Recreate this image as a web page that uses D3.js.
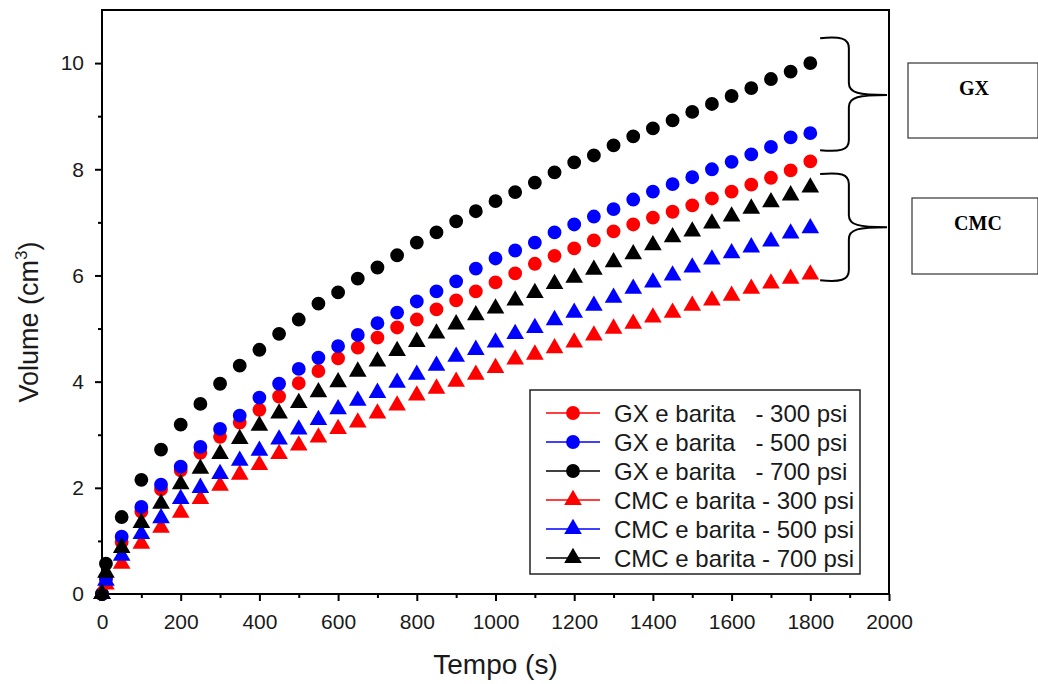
<!DOCTYPE html>
<html>
<head>
<meta charset="utf-8">
<script src="https://cdn.jsdelivr.net/npm/d3@7"></script>
<style>
    body { margin: 0; background: #fff; }
    svg { display: block; font-family: 'Liberation Sans', Arial, sans-serif; }
</style>
</head>
<body>
<svg id="chart" width="1038" height="684"></svg>
<script>
// time in seconds
const tempo = [0, 10].concat(d3.range(50, 1801, 50));

const gx300 = [0, 0.28, 0.98, 1.55, 1.97, 2.33, 2.66, 2.96, 3.23, 3.47, 3.72, 3.97, 4.20, 4.44, 4.64, 4.83, 5.02, 5.17, 5.36, 5.53,
    5.70, 5.87, 6.04, 6.22, 6.37, 6.51, 6.66, 6.83, 6.96, 7.09, 7.20, 7.32, 7.45, 7.58, 7.71, 7.84, 7.98, 8.15];
const gx500 = [0, 0.30, 1.08, 1.64, 2.06, 2.40, 2.77, 3.11, 3.36, 3.70, 3.96, 4.24, 4.45, 4.67, 4.88, 5.10, 5.30, 5.51, 5.70, 5.89,
    6.13, 6.32, 6.47, 6.62, 6.81, 6.96, 7.11, 7.25, 7.43, 7.58, 7.72, 7.85, 8.00, 8.14, 8.28, 8.42, 8.60, 8.68];
const gx700 = [0, 0.57, 1.45, 2.15, 2.72, 3.19, 3.58, 3.96, 4.30, 4.60, 4.90, 5.17, 5.47, 5.68, 5.94, 6.15, 6.38, 6.62, 6.81, 7.02,
    7.21, 7.40, 7.57, 7.75, 7.94, 8.13, 8.26, 8.45, 8.62, 8.77, 8.92, 9.08, 9.23, 9.38, 9.53, 9.70, 9.84, 10.0];
const cmc300 = [0, 0.18, 0.57, 0.95, 1.25, 1.53, 1.79, 2.04, 2.25, 2.43, 2.64, 2.80, 2.95, 3.11, 3.23, 3.40, 3.55, 3.74, 3.87, 4.00,
    4.13, 4.26, 4.42, 4.51, 4.63, 4.74, 4.87, 5.00, 5.09, 5.21, 5.30, 5.43, 5.53, 5.62, 5.75, 5.85, 5.94, 6.02];
const cmc500 = [0, 0.25, 0.72, 1.13, 1.43, 1.79, 2.00, 2.26, 2.51, 2.70, 2.91, 3.10, 3.28, 3.48, 3.64, 3.79, 3.98, 4.13, 4.30, 4.47,
    4.60, 4.74, 4.90, 5.01, 5.16, 5.30, 5.43, 5.58, 5.75, 5.87, 6.00, 6.15, 6.30, 6.42, 6.53, 6.64, 6.79, 6.89];
const cmc700 = [0, 0.40, 0.87, 1.34, 1.70, 2.07, 2.36, 2.64, 2.92, 3.17, 3.40, 3.60, 3.80, 3.99, 4.19, 4.38, 4.58, 4.75, 4.91, 5.08,
    5.25, 5.38, 5.53, 5.67, 5.84, 5.96, 6.11, 6.25, 6.40, 6.57, 6.72, 6.83, 6.98, 7.11, 7.26, 7.38, 7.51, 7.66];

const seriesNames = ['GX e barita   - 300 psi', 'GX e barita   - 500 psi', 'GX e barita   - 700 psi',
    'CMC e barita - 300 psi', 'CMC e barita - 500 psi', 'CMC e barita - 700 psi'];
const seriesValues = [gx300, gx500, gx700, cmc300, cmc500, cmc700];
const colors = ['#ff0000', '#0000ff', '#000000', '#ff0000', '#0000ff', '#000000'];
const shapes = ['circle', 'circle', 'circle', 'triangle', 'triangle', 'triangle'];

const xTicks = d3.range(0, 2001, 200);
const yTicks = d3.range(0, 11, 2);

const svg = d3.select('#chart');
const x = d3.scaleLinear().domain([0, 2000]).range([102, 889]);
const y = d3.scaleLinear().domain([0, 11]).range([594, 10]);

const symbol = shape => d3.symbol()
    .type(shape === 'circle' ? d3.symbolCircle : d3.symbolTriangle)
    .size(shape === 'circle' ? 150 : 135)();

// axes
svg.append('g').attr('transform', `translate(0,${y(0)})`)
    .call(d3.axisBottom(x).tickValues(xTicks).tickFormat(d3.format('d')).tickSize(7).tickPadding(13));
svg.append('g').attr('transform', `translate(0,${y(0)})`)
    .call(d3.axisBottom(x).tickValues(d3.range(100, 2000, 200)).tickSize(4).tickFormat(''));
svg.append('g').attr('transform', `translate(${x(0)},0)`)
    .call(d3.axisLeft(y).tickValues(yTicks).tickSize(7).tickPadding(11));
svg.append('g').attr('transform', `translate(${x(0)},0)`)
    .call(d3.axisLeft(y).tickValues(d3.range(1, 11, 2)).tickSize(4).tickFormat(''));
svg.selectAll('.domain').remove();
svg.selectAll('.tick line').attr('stroke', '#000').attr('stroke-width', 2);
svg.selectAll('.tick text')
    .style('font-size', '21px')
    .attr('fill', '#1a1a1a');

svg.append('rect')
    .attr('x', x(0))
    .attr('y', y(11))
    .attr('width', x(2000) - x(0))
    .attr('height', y(0) - y(11))
    .attr('fill', 'none')
    .attr('stroke', '#000')
    .attr('stroke-width', 2);

// titles
svg.append('text')
    .attr('x', (x(0) + x(2000)) / 2)
    .attr('y', 674)
    .attr('text-anchor', 'middle')
    .style('font-size', '28px')
    .attr('fill', '#1a1a1a')
    .text('Tempo (s)');
const yTitle = svg.append('text')
    .attr('transform', `translate(38,${(y(0) + y(11)) / 2 + 20}) rotate(-90)`)
    .attr('text-anchor', 'middle')
    .style('font-size', '27px')
    .attr('fill', '#1a1a1a');
yTitle.append('tspan').text('Volume (cm');
yTitle.append('tspan').attr('dy', -11).style('font-size', '17px').text('3');
yTitle.append('tspan').attr('dy', 11).text(')');

// points
seriesValues.forEach((vals, i) => {
    svg.append('g')
        .selectAll('path')
        .data(vals.map((v, j) => ({ t: tempo[j], v })))
        .enter()
        .append('path')
        .attr('d', symbol(shapes[i]))
        .attr('transform', d => `translate(${x(d.t)},${y(d.v)})`)
        .attr('fill', colors[i]);
});

// legend
const legend = svg.append('g').attr('transform', 'translate(530,390)');
legend.append('rect')
    .attr('width', 330)
    .attr('height', 184)
    .attr('fill', '#fff')
    .attr('stroke', '#222')
    .attr('stroke-width', 1.5);
const item = legend.selectAll('.item')
    .data(seriesNames)
    .enter()
    .append('g')
    .attr('transform', (d, i) => `translate(0,${23 + i * 29})`);
item.append('line')
    .attr('x1', 16)
    .attr('x2', 70)
    .attr('stroke', (d, i) => colors[i])
    .attr('stroke-width', 1.5);
item.append('path')
    .attr('d', (d, i) => symbol(shapes[i]))
    .attr('transform', 'translate(43,0)')
    .attr('fill', (d, i) => colors[i]);
item.append('text')
    .attr('x', 84)
    .attr('dy', '0.36em')
    .style('font-size', '24px')
    .style('white-space', 'pre')
    .attr('fill', '#1a1a1a')
    .text(d => d);

// braces grouping the two fluids
const braces = [
    { label: 'GX', top: 10.47, tip: 9.40, bottom: 8.36, box: [908, 63, 130, 75] },
    { label: 'CMC', top: 7.91, tip: 6.91, bottom: 5.91, box: [912, 198, 126, 76] },
];
const bx0 = x(1825);
const bxv = x(1898);
const bxt = x(1995);
braces.forEach(b => {
    const yt = y(b.top), ym = y(b.tip), yb = y(b.bottom);
    const path = d3.path();
    path.moveTo(bx0, yt);
    path.bezierCurveTo(bx0 + 20, yt - 2, bxv, yt, bxv, yt + 10);
    path.lineTo(bxv, ym - 12);
    path.bezierCurveTo(bxv, ym - 2, bxv + 10, ym, bxt, ym);
    path.bezierCurveTo(bxv + 10, ym, bxv, ym + 2, bxv, ym + 12);
    path.lineTo(bxv, yb - 10);
    path.bezierCurveTo(bxv, yb, bx0 + 20, yb + 2, bx0, yb);
    svg.append('path')
        .attr('d', path.toString())
        .attr('fill', 'none')
        .attr('stroke', '#000')
        .attr('stroke-width', 2);
    const [bxx, byy, bw, bh] = b.box;
    svg.append('rect')
        .attr('x', bxx)
        .attr('y', byy)
        .attr('width', bw)
        .attr('height', bh)
        .attr('fill', '#fff')
        .attr('stroke', '#333')
        .attr('stroke-width', 1.2);
    svg.append('text')
        .attr('x', bxx + 66)
        .attr('y', byy + 32)
        .attr('text-anchor', 'middle')
        .style('font-family', "'Liberation Serif', 'Times New Roman', serif")
        .style('font-weight', 'bold')
        .style('font-size', '20px')
        .text(b.label);
});
</script>
</body>
</html>
